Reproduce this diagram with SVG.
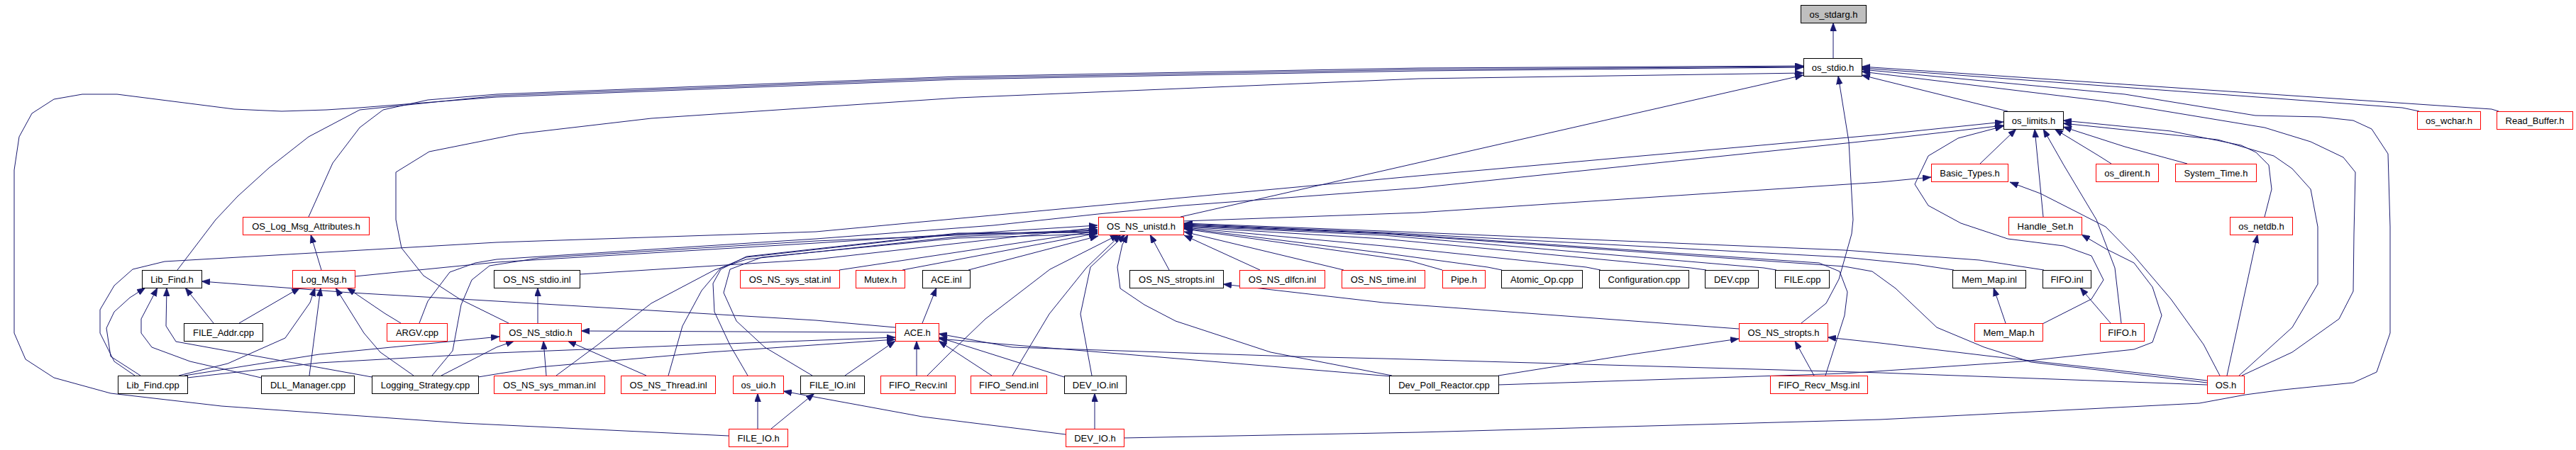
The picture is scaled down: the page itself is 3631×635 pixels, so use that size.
<svg xmlns="http://www.w3.org/2000/svg" width="3631" height="635" viewBox="0 0 3631 635">
<style>
rect.r{fill:#fff;stroke:#ff0000;stroke-width:1}
rect.b{fill:#fff;stroke:#000;stroke-width:1}
rect.g{fill:#bfbfbf;stroke:#000;stroke-width:1}
text{font-family:"Liberation Sans",Arial,sans-serif;font-size:13px;text-anchor:middle;fill:#000}
#edges path{fill:none;stroke:#191970;stroke-width:1;stroke-linejoin:round;marker-end:url(#a)}
</style>
<defs>
<marker id="a" markerUnits="userSpaceOnUse" markerWidth="12" markerHeight="9" refX="12" refY="4.5" orient="auto" viewBox="0 0 12 9"><path d="M0,0L12,4.5L0,9z" fill="#191970" stroke="#191970" stroke-width="0.5"/></marker>
</defs>
<rect width="3631" height="635" fill="#fff"/>
<g id="edges">
<path d="M2584,82 L2584,32"/>
<path d="M2830,157 L2624,106"/>
<path d="M3410,157 L3386,152 L2624,96"/>
<path d="M3522,157 L3512,154 L2624,94"/>
<path d="M3160,530 L3231,497 L3297,450 L3317,411 L3318,330 L3320,243 L3303,222 L3257,200 L3192,180 L2968,143 L2624,101"/>
<path d="M1584,618 L2000,610 L2650,592 L3100,569 L3165,557 L3218,550 L3317,540 L3350,525 L3369,470 L3369,320 L3366,217 L3343,182 L3317,170 L3271,165 L3179,163 L2995,133 L2624,98"/>
<path d="M1027,615 L650,597 L312,573 L156,555 L76,533 L36,507 L20,470 L20,240 L27,193 L45,160 L76,140 L116,133 L165,133 L330,154 L397,157 L460,155 L507,152 L700,137 L1350,112 L2000,100 L2542,95"/>
<path d="M250,381 L304,310 L335,277 L379,237 L435,193 L507,155 L700,135 L1350,110 L2000,98 L2542,94"/>
<path d="M435,306 L469,230 L507,180 L540,155 L603,141 L700,133 L1350,108 L2000,96 L2542,93"/>
<path d="M717,456 L648,422 L597,389 L566,350 L558,310 L558,243 L605,214 L650,205 L730,189 L918,167 L1350,138 L2000,111 L2542,103"/>
<path d="M1664,306 L2542,106"/>
<path d="M2539,456 L2574,428 L2592,394 L2610,330 L2612,310 L2606,200 L2591,107"/>
<path d="M2791,231 L2842,182"/>
<path d="M2976,231 L2957,219 L2896,182"/>
<path d="M3083,231 L2995,207 L2908,179"/>
<path d="M2880,306 L2868,182"/>
<path d="M3192,306 L3202,267 L3198,233 L3180,215 L3159,205 L3060,185 L2908,170"/>
<path d="M3156,530 L3231,462 L3267,401 L3267,320 L3257,267 L3231,238 L3205,220 L3126,197 L2908,174"/>
<path d="M2990,456 L2981,378 L2955,310 L2909,233 L2880,182"/>
<path d="M2879,457 L2948,422 L2965,395 L2948,361 L2909,347 L2830,337 L2764,315 L2718,290 L2699,260 L2718,220 L2760,195 L2824,178"/>
<path d="M1668,312 L2000,300 L2650,257 L2722,250"/>
<path d="M3129,530 L3106,486 L3060,422 L3008,361 L2968,320 L2929,300 L2876,273 L2833,257"/>
<path d="M3139,530 L3182,331"/>
<path d="M2112,543 L2600,527 L2850,510 L3008,493 L3034,483 L3047,445 L3034,405 L3008,371 L2968,351 L2934,331"/>
<path d="M3111,540 L2863,511 L2797,490 L2730,462 L2672,407 L2639,383 L2600,376 L1950,330 L1669,318"/>
<path d="M1776,381 L1669,332"/>
<path d="M1894,381 L1669,327"/>
<path d="M2033,381 L1987,368 L1669,323"/>
<path d="M2117,381 L2097,377 L1950,357 L1669,322"/>
<path d="M2256,381 L2236,377 L1950,347 L1669,321"/>
<path d="M2405,381 L2383,378 L1950,337 L1669,320"/>
<path d="M2504,381 L2486,378 L1950,332 L1669,319"/>
<path d="M2573,530 L2600,445 L2604,412 L2593,383 L2564,371 L1950,329 L1669,317"/>
<path d="M2754,381 L2700,373 L2600,363 L1950,328 L1669,316"/>
<path d="M2881,381 L2790,367 L2600,353 L1950,326 L1669,315"/>
<path d="M1962,530 L1791,497 L1657,453 L1613,430 L1579,407 L1575,377 L1582,345 L1590,331"/>
<path d="M1648,381 L1621,331"/>
<path d="M2451,464 L1950,427 L1724,401"/>
<path d="M2112,530 L2300,500 L2451,478"/>
<path d="M2557,530 L2530,481"/>
<path d="M3111,537 L2800,502 L2650,484 L2576,476"/>
<path d="M3111,543 L2650,526 L1950,506 L1823,503 L1427,490 L1323,471"/>
<path d="M1960,531 L1323,478"/>
<path d="M1398,530 L1323,481"/>
<path d="M1500,532 L1323,476"/>
<path d="M1292,530 L1292,481"/>
<path d="M1191,530 L1262,481"/>
<path d="M1300,456 L1320,406"/>
<path d="M1262,469 L819,467"/>
<path d="M1262,462 L1150,452 L650,422 L494,413 L284,397"/>
<path d="M260,530 L450,500 L704,475"/>
<path d="M264,533 L450,512 L700,498 L1000,486 L1262,476"/>
<path d="M622,530 L700,490 L725,481"/>
<path d="M674,532 L760,518 L1000,497 L1262,479"/>
<path d="M770,530 L766,481"/>
<path d="M911,530 L800,481"/>
<path d="M758,456 L758,406"/>
<path d="M198,530 L156,503 L150,463 L161,440 L183,420 L205,406"/>
<path d="M368,533 L268,510 L214,490 L199,470 L199,450 L222,406"/>
<path d="M524,532 L248,482 L234,460 L235,406"/>
<path d="M301,456 L261,406"/>
<path d="M337,456 L423,406"/>
<path d="M252,530 L321,513 L402,477 L437,427 L444,406"/>
<path d="M436,530 L452,406"/>
<path d="M583,530 L536,497 L513,470 L473,406"/>
<path d="M565,456 L542,442 L489,406"/>
<path d="M453,381 L438,331"/>
<path d="M591,456 L603,425 L634,384 L670,371 L700,366 L1150,337 L1400,318 L1548,302 L1668,290 L2000,265 L2650,197 L2824,177"/>
<path d="M190,530 L161,510 L141,470 L141,437 L161,403 L187,380 L232,369 L700,342 L1150,327 L1300,313 L2000,248 L2650,190 L2824,172"/>
<path d="M500,390 L700,370 L1150,343 L1547,318"/>
<path d="M817,387 L1150,366 L1547,321"/>
<path d="M609,530 L638,495 L650,430 L665,395 L690,375 L760,364 L1150,340 L1547,324"/>
<path d="M1183,381 L1547,326"/>
<path d="M1272,381 L1547,329"/>
<path d="M1365,381 L1548,333"/>
<path d="M784,530 L842,487 L918,428 L1007,381 L1052,366 L1350,334 L1547,325"/>
<path d="M942,530 L962,460 L989,410 L1016,378 L1052,363 L1350,330 L1547,327"/>
<path d="M1054,530 L1029,487 L1007,440 L1005,400 L1016,380 L1052,362 L1350,329 L1547,328"/>
<path d="M1145,530 L1078,490 L1038,453 L1020,413 L1029,380 L1074,363 L1350,336 L1547,330"/>
<path d="M1307,530 L1337,500 L1389,450 L1480,380 L1577,331"/>
<path d="M1427,530 L1479,443 L1532,377 L1580,331"/>
<path d="M1539,530 L1523,443 L1537,377 L1586,331"/>
<path d="M1068,605 L1068,555"/>
<path d="M1087,605 L1148,555"/>
<path d="M1543,605 L1543,555"/>
<path d="M1502,613 L1300,588 L1104,552"/>
<path d="M2975,456 L2932,406"/>
<path d="M2827,456 L2810,406"/>
</g>
<g id="n_os_stdarg_h"><rect class="g" x="2538.5" y="7.5" width="92" height="25"/><text x="2584.5" y="24.5">os_stdarg.h</text></g>
<g id="n_os_stdio_h"><rect class="b" x="2542.5" y="82.5" width="82" height="25"/><text x="2583.5" y="99.5">os_stdio.h</text></g>
<g id="n_os_limits_h"><rect class="b" x="2824.5" y="157.5" width="84" height="25"/><text x="2866.5" y="174.5">os_limits.h</text></g>
<g id="n_os_wchar_h"><rect class="r" x="3407.5" y="157.5" width="89" height="25"/><text x="3452" y="174.5">os_wchar.h</text></g>
<g id="n_Read_Buffer_h"><rect class="r" x="3519.5" y="157.5" width="107" height="25"/><text x="3573" y="174.5">Read_Buffer.h</text></g>
<g id="n_Basic_Types_h"><rect class="r" x="2722.5" y="231.5" width="108" height="25"/><text x="2776.5" y="248.5">Basic_Types.h</text></g>
<g id="n_os_dirent_h"><rect class="r" x="2954.5" y="231.5" width="88" height="25"/><text x="2998.5" y="248.5">os_dirent.h</text></g>
<g id="n_System_Time_h"><rect class="r" x="3066.5" y="231.5" width="114" height="25"/><text x="3123.5" y="248.5">System_Time.h</text></g>
<g id="n_OS_Log_Msg_Attributes_h"><rect class="r" x="342.5" y="306.5" width="178" height="25"/><text x="431.5" y="323.5">OS_Log_Msg_Attributes.h</text></g>
<g id="n_OS_NS_unistd_h"><rect class="r" x="1548.5" y="306.5" width="120" height="25"/><text x="1608.5" y="323.5">OS_NS_unistd.h</text></g>
<g id="n_Handle_Set_h"><rect class="r" x="2831.5" y="306.5" width="103" height="25"/><text x="2883" y="323.5">Handle_Set.h</text></g>
<g id="n_os_netdb_h"><rect class="r" x="3143.5" y="306.5" width="88" height="25"/><text x="3187.5" y="323.5">os_netdb.h</text></g>
<g id="n_Lib_Find_h"><rect class="b" x="200.5" y="381.5" width="84" height="25"/><text x="242.5" y="398.5">Lib_Find.h</text></g>
<g id="n_Log_Msg_h"><rect class="r" x="412.5" y="381.5" width="88" height="25"/><text x="456.5" y="398.5">Log_Msg.h</text></g>
<g id="n_OS_NS_stdio_inl"><rect class="b" x="696.5" y="381.5" width="121" height="25"/><text x="757" y="398.5">OS_NS_stdio.inl</text></g>
<g id="n_OS_NS_sys_stat_inl"><rect class="r" x="1043.5" y="381.5" width="140" height="25"/><text x="1113.5" y="398.5">OS_NS_sys_stat.inl</text></g>
<g id="n_Mutex_h"><rect class="r" x="1206.5" y="381.5" width="69" height="25"/><text x="1241" y="398.5">Mutex.h</text></g>
<g id="n_ACE_inl"><rect class="b" x="1300.5" y="381.5" width="67" height="25"/><text x="1334" y="398.5">ACE.inl</text></g>
<g id="n_OS_NS_stropts_inl"><rect class="b" x="1592.5" y="381.5" width="132" height="25"/><text x="1658.5" y="398.5">OS_NS_stropts.inl</text></g>
<g id="n_OS_NS_dlfcn_inl"><rect class="r" x="1747.5" y="381.5" width="120" height="25"/><text x="1807.5" y="398.5">OS_NS_dlfcn.inl</text></g>
<g id="n_OS_NS_time_inl"><rect class="r" x="1891.5" y="381.5" width="117" height="25"/><text x="1950" y="398.5">OS_NS_time.inl</text></g>
<g id="n_Pipe_h"><rect class="r" x="2033.5" y="381.5" width="60" height="25"/><text x="2063.5" y="398.5">Pipe.h</text></g>
<g id="n_Atomic_Op_cpp"><rect class="b" x="2116.5" y="381.5" width="114" height="25"/><text x="2173.5" y="398.5">Atomic_Op.cpp</text></g>
<g id="n_Configuration_cpp"><rect class="b" x="2254.5" y="381.5" width="126" height="25"/><text x="2317.5" y="398.5">Configuration.cpp</text></g>
<g id="n_DEV_cpp"><rect class="b" x="2403.5" y="381.5" width="75" height="25"/><text x="2441" y="398.5">DEV.cpp</text></g>
<g id="n_FILE_cpp"><rect class="b" x="2502.5" y="381.5" width="76" height="25"/><text x="2540.5" y="398.5">FILE.cpp</text></g>
<g id="n_Mem_Map_inl"><rect class="b" x="2752.5" y="381.5" width="103" height="25"/><text x="2804" y="398.5">Mem_Map.inl</text></g>
<g id="n_FIFO_inl"><rect class="b" x="2879.5" y="381.5" width="68" height="25"/><text x="2913.5" y="398.5">FIFO.inl</text></g>
<g id="n_FILE_Addr_cpp"><rect class="b" x="259.5" y="456.5" width="111" height="25"/><text x="315" y="473.5">FILE_Addr.cpp</text></g>
<g id="n_ARGV_cpp"><rect class="r" x="545.5" y="456.5" width="85" height="25"/><text x="588" y="473.5">ARGV.cpp</text></g>
<g id="n_OS_NS_stdio_h"><rect class="r" x="704.5" y="456.5" width="115" height="25"/><text x="762" y="473.5">OS_NS_stdio.h</text></g>
<g id="n_ACE_h"><rect class="r" x="1262.5" y="456.5" width="61" height="25"/><text x="1293" y="473.5">ACE.h</text></g>
<g id="n_OS_NS_stropts_h"><rect class="r" x="2451.5" y="456.5" width="125" height="25"/><text x="2514" y="473.5">OS_NS_stropts.h</text></g>
<g id="n_Mem_Map_h"><rect class="r" x="2783.5" y="456.5" width="96" height="25"/><text x="2831.5" y="473.5">Mem_Map.h</text></g>
<g id="n_FIFO_h"><rect class="r" x="2960.5" y="456.5" width="62" height="25"/><text x="2991.5" y="473.5">FIFO.h</text></g>
<g id="n_Lib_Find_cpp"><rect class="b" x="166.5" y="530.5" width="98" height="25"/><text x="215.5" y="547.5">Lib_Find.cpp</text></g>
<g id="n_DLL_Manager_cpp"><rect class="b" x="368.5" y="530.5" width="131" height="25"/><text x="434" y="547.5">DLL_Manager.cpp</text></g>
<g id="n_Logging_Strategy_cpp"><rect class="b" x="524.5" y="530.5" width="150" height="25"/><text x="599.5" y="547.5">Logging_Strategy.cpp</text></g>
<g id="n_OS_NS_sys_mman_inl"><rect class="r" x="696.5" y="530.5" width="156" height="25"/><text x="774.5" y="547.5">OS_NS_sys_mman.inl</text></g>
<g id="n_OS_NS_Thread_inl"><rect class="r" x="875.5" y="530.5" width="133" height="25"/><text x="942" y="547.5">OS_NS_Thread.inl</text></g>
<g id="n_os_uio_h"><rect class="r" x="1033.5" y="530.5" width="71" height="25"/><text x="1069" y="547.5">os_uio.h</text></g>
<g id="n_FILE_IO_inl"><rect class="b" x="1128.5" y="530.5" width="90" height="25"/><text x="1173.5" y="547.5">FILE_IO.inl</text></g>
<g id="n_FIFO_Recv_inl"><rect class="r" x="1241.5" y="530.5" width="105" height="25"/><text x="1294" y="547.5">FIFO_Recv.inl</text></g>
<g id="n_FIFO_Send_inl"><rect class="r" x="1368.5" y="530.5" width="107" height="25"/><text x="1422" y="547.5">FIFO_Send.inl</text></g>
<g id="n_DEV_IO_inl"><rect class="b" x="1500.5" y="530.5" width="87" height="25"/><text x="1544" y="547.5">DEV_IO.inl</text></g>
<g id="n_Dev_Poll_Reactor_cpp"><rect class="b" x="1958.5" y="530.5" width="154" height="25"/><text x="2035.5" y="547.5">Dev_Poll_Reactor.cpp</text></g>
<g id="n_FIFO_Recv_Msg_inl"><rect class="r" x="2495.5" y="530.5" width="137" height="25"/><text x="2564" y="547.5">FIFO_Recv_Msg.inl</text></g>
<g id="n_OS_h"><rect class="r" x="3111.5" y="530.5" width="52" height="25"/><text x="3137.5" y="547.5">OS.h</text></g>
<g id="n_FILE_IO_h"><rect class="r" x="1027.5" y="605.5" width="83" height="25"/><text x="1069" y="622.5">FILE_IO.h</text></g>
<g id="n_DEV_IO_h"><rect class="r" x="1502.5" y="605.5" width="82" height="25"/><text x="1543.5" y="622.5">DEV_IO.h</text></g>
</svg>
